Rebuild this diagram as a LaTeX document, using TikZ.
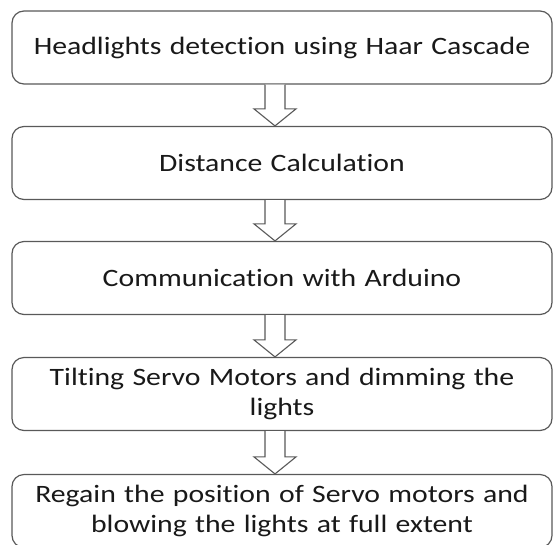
\documentclass[tikz,border=0pt]{standalone}
\usepackage{fontspec}
\setmainfont[FakeStretch=1.19,Ligatures=NoCommon]{Carlito}
\usetikzlibrary{calc}
\tikzset{
  stagebox/.style={draw=black!65, line width=1.2pt, rounded corners=12pt, fill=white,
    minimum width=540pt, minimum height=73pt, inner sep=0pt, align=center,
    text width=530pt, font=\fontsize{25}{29.5}\selectfont, text=black!90},
  barrow/.style={draw=black!65, line width=1.1pt, fill=white, line join=miter}
}
% hollow block arrow from the bottom of one box to the top of the next
\newcommand\blockarrow[2]{%
  \path let \p1=(#1.south), \p2=(#2.north) in
    [barrow] (\x1-17pt,\y1) -- (\x1-17pt,\y2+17pt) -- (\x1-28pt,\y2+17pt)
      -- (\x1-7pt,\y2) -- (\x1+14pt,\y2+17pt) -- (\x1+3pt,\y2+17pt) -- (\x1+3pt,\y1);
}
\begin{document}
\begin{tikzpicture}[x=1pt,y=1pt]
  \useasboundingbox (0,0) rectangle (553,-544);
  \node[stagebox] (b1) at (282,-47.5) {Headlights detection using Haar Cascade};
  \node[stagebox] (b2) at (282,-163) {Distance Calculation};
  \node[stagebox] (b3) at (282,-278) {Communication with Arduino};
  \node[stagebox] (b4) at (282,-394) {Tilting Servo Motors and dimming the\\lights};
  \node[stagebox] (b5) at (282,-511) {Regain the position of Servo motors and\\blowing the lights at full extent};
  \blockarrow{b1}{b2}
  \blockarrow{b2}{b3}
  \blockarrow{b3}{b4}
  \blockarrow{b4}{b5}
\end{tikzpicture}
\end{document}
